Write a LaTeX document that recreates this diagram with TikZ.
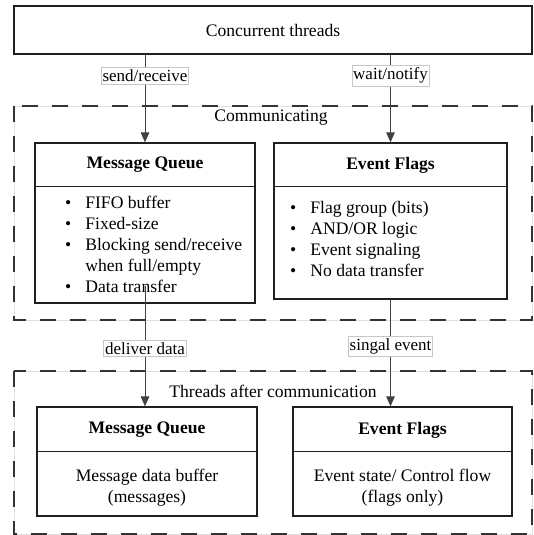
\documentclass[tikz,border=0pt]{standalone}
\usepackage{fontspec}
\setmainfont{Liberation Serif}
\usetikzlibrary{arrows.meta}
\begin{document}
\begin{tikzpicture}[x=1pt,y=-1pt,
  every node/.style={font=\fontsize{17.6}{21.2}\selectfont},
  box/.style={draw=black!88, line width=1.3pt, rectangle, inner sep=0pt},
  divider/.style={draw=black!88, line width=1.1pt},
  grpbase/.style={draw=black!12, line width=0.9pt},
  grpdash/.style={draw=black!80, line width=1.3pt, dash pattern=on 16pt off 14pt},
  arr/.style={draw=black!75, line width=1pt, -{Triangle[width=8.5pt,length=10pt]}},
  tag/.style={draw=black!22, fill=white, line width=0.8pt, inner xsep=1.3pt,
    inner ysep=2.5pt, font=\fontsize{17}{19}\selectfont},
  head/.style={font=\fontsize{17.6}{21}\selectfont\bfseries},
  body/.style={align=center, inner sep=0pt},
  list/.style={anchor=north west, inner sep=0pt, align=left}]

\useasboundingbox (0,0) rectangle (533,535);

% dashed group frames
\coordinate (g1a) at (14,106);
\coordinate (g1b) at (532,320);
\coordinate (g2a) at (14,371);
\coordinate (g2b) at (532,534);
\draw[grpbase] (g1a) rectangle (g1b);
\draw[grpdash] (g1a) rectangle (g1b);
\draw[grpbase] (g2a) rectangle (g2b);
\draw[grpdash] (g2a) rectangle (g2b);
\node (commlbl) at (271,118) {Communicating};
\node (afterlbl) at (273,391) {Threads after communication};

% top box
\node[box, minimum width=518pt, minimum height=48pt] (top) at (273,30) {Concurrent threads};

% communicating: message queue
\node[box, minimum width=220pt, minimum height=160pt] (mq) at (145,223) {};
\draw[divider] ([yshift=-44pt]mq.north west) -- ([yshift=-44pt]mq.north east);
\node[head] (mqt) at (145,165) {Message Queue};
\node[list] (mql) at (65,193) {%
  \begin{tabular}{@{}l@{\hspace{14pt}}l@{}}
  \textbullet & FIFO buffer\\
  \textbullet & Fixed-size\\
  \textbullet & Blocking send/receive\\
              & when full/empty\\
  \textbullet & Data transfer
  \end{tabular}};

% communicating: event flags
\node[box, minimum width=233pt, minimum height=156pt] (ef) at (390.5,221) {};
\draw[divider] ([yshift=-44pt]ef.north west) -- ([yshift=-44pt]ef.north east);
\node[head] (eft) at (390.5,165) {Event Flags};
\node[list] (efl) at (290,198) {%
  \begin{tabular}{@{}l@{\hspace{14pt}}l@{}}
  \textbullet & Flag group (bits)\\
  \textbullet & AND/OR logic\\
  \textbullet & Event signaling\\
  \textbullet & No data transfer
  \end{tabular}};

% after communication
\node[box, minimum width=220pt, minimum height=109pt] (mq2) at (147,461.5) {};
\draw[divider] ([yshift=-45pt]mq2.north west) -- ([yshift=-45pt]mq2.north east);
\node[head] (mq2t) at (147,430) {Message Queue};
\node[body] (mq2b) at (147,488) {Message data buffer\\(messages)};

\node[box, minimum width=219pt, minimum height=109pt] (ef2) at (402.5,461.5) {};
\draw[divider] ([yshift=-45pt]ef2.north west) -- ([yshift=-45pt]ef2.north east);
\node[head] (ef2t) at (402.5,430) {Event Flags};
\node[body] (ef2b) at (402.5,488) {Event state/ Control flow\\(flags only)};

% connectors
\draw[arr] (top.south -| mq.north) -- node[tag, pos=0.24] (l1) {send/receive} (mq.north);
\draw[arr] (top.south -| ef.north) -- node[tag, pos=0.24] (l2) {wait/notify} (ef.north);
\draw[arr] ([yshift=18pt]mq.south) -- node[tag, pos=0.52] (l3) {deliver data} (mq2.north -| mq.south);
\draw[arr] (ef.south) -- node[tag, pos=0.44] (l4) {singal event} (ef2.north -| ef.south);

\end{tikzpicture}
\end{document}
